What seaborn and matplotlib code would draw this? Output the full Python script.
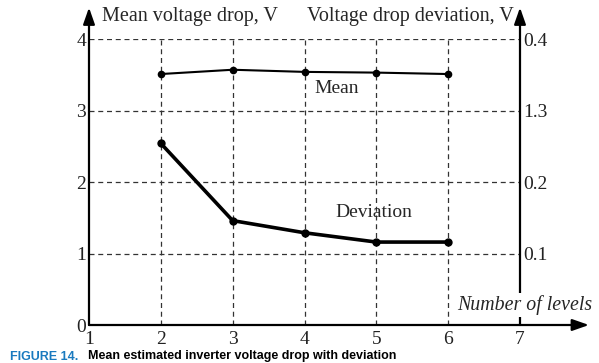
import matplotlib
matplotlib.use("Agg")
import matplotlib.pyplot as plt
import seaborn as sns
import pandas as pd

levels = [2, 3, 4, 5, 6]
mean_drop = [3.51, 3.57, 3.54, 3.53, 3.51]
deviation = [0.254, 0.146, 0.129, 0.116, 0.116]
x_ticks = [1, 2, 3, 4, 5, 6, 7]
left_ticks = [0, 1, 2, 3, 4]
right_ticks = [0.1, 0.2, 0.3, 0.4]
right_tick_labels = ["0.1", "0.2", "1.3", "0.4"]

sns.set_style("white")
plt.rcParams["font.family"] = ["Liberation Serif", "DejaVu Serif"]

fig = plt.figure(figsize=(5.99, 3.63), dpi=100)
ax = fig.add_axes([89 / 599, 1 - 325 / 363, 431 / 599, 286 / 363])
ax2 = ax.twinx()

df = pd.DataFrame({"levels": levels, "mean": mean_drop, "dev": deviation})
sns.lineplot(data=df, x="levels", y="mean", ax=ax, color="black", lw=1.5,
             marker="o", markersize=5.5, markeredgewidth=0, zorder=5)
sns.lineplot(data=df, x="levels", y="dev", ax=ax2, color="black", lw=2.6,
             marker="o", markersize=6, markeredgewidth=0, zorder=5)

ax.set_xlim(1, 7)
ax.set_ylim(0, 4)
ax2.set_ylim(0, 0.4)
ax.set_xticks(x_ticks)
ax.set_yticks(left_ticks)
ax2.set_yticks(right_ticks)
ax2.set_yticklabels(right_tick_labels)
ax.set_xlabel("")
ax.set_ylabel("")
ax2.set_ylabel("")

for a in (ax, ax2):
    for s in a.spines.values():
        s.set_visible(False)
    a.tick_params(length=0, labelsize=14, colors="#222222")
ax.tick_params(axis="y", pad=2)
ax.tick_params(axis="x", pad=4)
ax2.tick_params(axis="y", pad=2)

# grid
for xv in x_ticks[1:-1]:
    ax.plot([xv, xv], [0, 4], ls=(0, (4, 3)), color="#333333", lw=0.9, zorder=1)
for yv in left_ticks[1:]:
    ax.plot([1, 7], [yv, yv], ls=(0, (4, 3)), color="#333333", lw=0.9, zorder=1)

# axes with arrows
arrow_kw = dict(arrowstyle="-|>,head_length=1.0,head_width=0.35", color="black", lw=1.6,
                shrinkA=0, shrinkB=0)
ax.annotate("", xy=(0, 1.11), xytext=(0, 0), xycoords="axes fraction",
            arrowprops=arrow_kw, annotation_clip=False)
ax.annotate("", xy=(1, 1.11), xytext=(1, 0), xycoords="axes fraction",
            arrowprops=arrow_kw, annotation_clip=False)
ax.annotate("", xy=(1.16, 0), xytext=(0, 0), xycoords="axes fraction",
            arrowprops=arrow_kw, annotation_clip=False)

fig.text(102 / 599, 1 - 16 / 363, "Mean voltage drop, V", fontsize=14.5,
         ha="left", va="center")
fig.text(514 / 599, 1 - 16 / 363, "Voltage drop deviation, V", fontsize=14.5,
         ha="right", va="center")
fig.text(457 / 599, 1 - 305 / 363, "Number of levels", fontsize=14.3,
         style="italic", ha="left", va="center", zorder=10,
         bbox=dict(facecolor="white", edgecolor="none", pad=1.5))
ax.text(4.45, 3.31, "Mean", fontsize=14, ha="center", va="center")
ax.text(4.97, 1.57, "Deviation", fontsize=14, ha="center", va="center")

# caption (kept fully visible at the bottom edge)
cap_font = ["Liberation Sans Narrow", "Liberation Sans", "DejaVu Sans"]
t1 = fig.text(10 / 599, 1 - 362.5 / 363, "FIGURE 14.", fontsize=9, fontweight="bold",
              color="#1a7abf", family=cap_font, ha="left", va="bottom")
renderer = fig.canvas.get_renderer()
bb = t1.get_window_extent(renderer=renderer)
x2 = (bb.x1 + 10) / fig.bbox.width
fig.text(x2, 1 - 362.5 / 363, "Mean estimated inverter voltage drop with deviation",
         fontsize=9, fontweight="bold", color="black", family=cap_font,
         ha="left", va="bottom")

fig.savefig("out.png", dpi=100)
